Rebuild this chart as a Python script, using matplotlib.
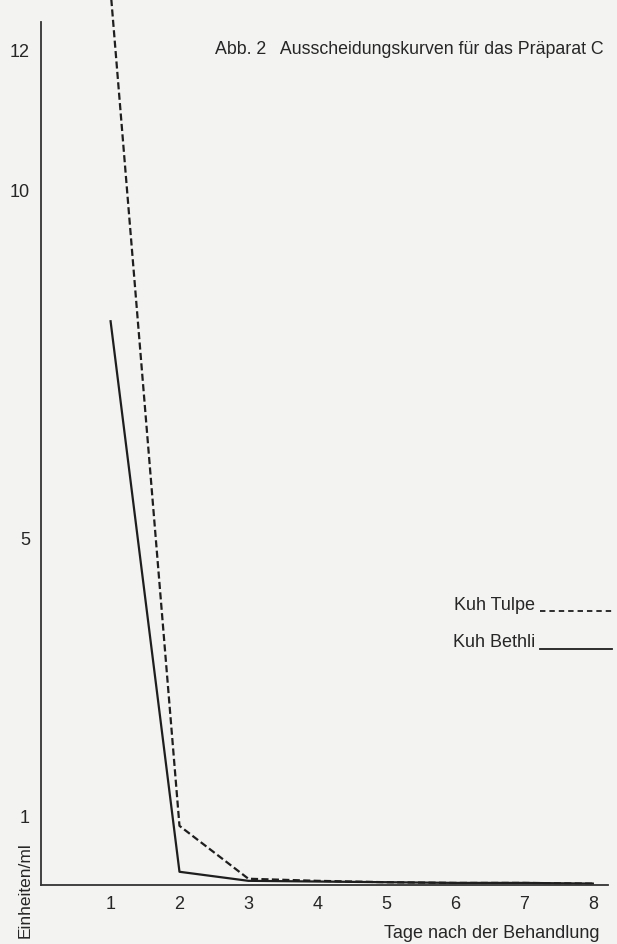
import matplotlib
matplotlib.use("Agg")
import matplotlib.pyplot as plt
from matplotlib.lines import Line2D

days = [1, 2, 3, 4, 5, 6, 7, 8]
tulpe = [12.85, 0.85, 0.09, 0.06, 0.04, 0.03, 0.03, 0.02]
bethli = [8.1, 0.19, 0.06, 0.05, 0.04, 0.03, 0.03, 0.02]
yticks = [1, 5, 10, 12]
xticks = [1, 2, 3, 4, 5, 6, 7, 8]
title = "Abb. 2   Ausscheidungskurven für das Präparat C"
ylabel = "Einheiten/ml"
xlabel = "Tage nach der Behandlung"
series_names = ["Kuh Tulpe", "Kuh Bethli"]

plt.rcParams['font.family'] = ['Liberation Sans', 'DejaVu Sans']
bg = '#f3f3f1'
ink = '#1e1e1e'
txt = '#262626'
fs = 13

fig = plt.figure(figsize=(6.17, 9.45), dpi=100, facecolor=bg)
ax = fig.add_axes([41/617, 59/945, (608-41)/617, 886/945])
ax.set_facecolor(bg)

dash = (0, (3.2, 1.5))
ax.plot(days, tulpe, color=ink, lw=1.6, linestyle=dash)
ax.plot(days, bethli, color=ink, lw=1.6)

ax.set_xlim(-0.01, 8.22)
ax.set_ylim(0, 12.73)
ax.spines['top'].set_visible(False)
ax.spines['right'].set_visible(False)
ax.spines['left'].set_bounds(0, 12.4)
for s in ('left', 'bottom'):
    ax.spines[s].set_color('#333333')
    ax.spines[s].set_linewidth(1.3)

ax.set_xticks(xticks)
ax.set_xticklabels([str(t) for t in xticks])
ax.set_yticks(yticks)
ax.set_yticklabels([str(t) for t in yticks])
ax.tick_params(axis='both', length=0, labelsize=fs, colors=txt)
ax.tick_params(axis='x', pad=7)
ax.tick_params(axis='y', pad=8)

fig.text(604/617, 1 - 50/945, title, ha='right', va='center', fontsize=12.8, color=txt)
fig.text(25/617, 1 - 890/945, ylabel, rotation=90, ha='center', va='center', fontsize=12.5, color=txt)
fig.text(600/617, 1 - 934/945, xlabel, ha='right', va='center', fontsize=fs, color=txt)

# legend (text followed by a line key at baseline level)
leg_styles = [dict(linestyle=(0, (3.0, 2.2)), lw=1.3), dict(linestyle='-', lw=1.3)]
leg_y = [605, 643]
for name, st, yy in zip(series_names, leg_styles, leg_y):
    fig.text(535/617, 1 - yy/945, name, ha='right', va='center', fontsize=fs, color=txt)
    fig.add_artist(Line2D([540/617, 612/617], [1 - (yy + 7)/945] * 2,
                          transform=fig.transFigure, color=ink, **st))

fig.savefig('out.png', dpi=100, facecolor=bg)
